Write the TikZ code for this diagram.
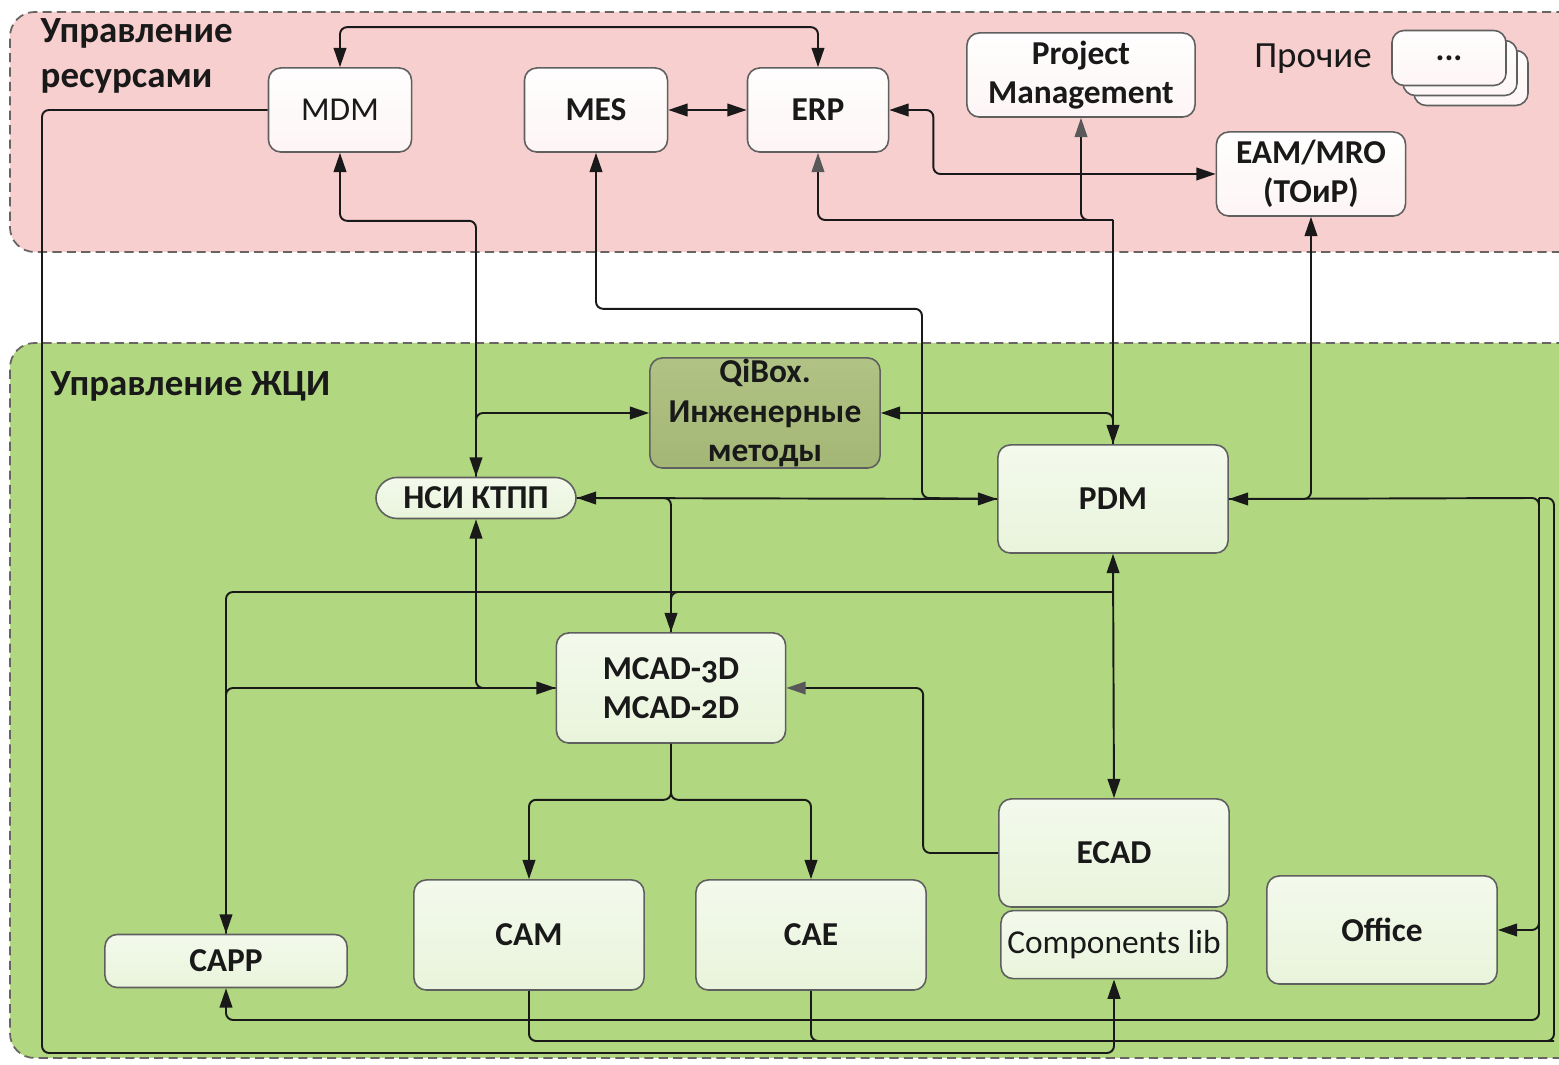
\documentclass[tikz,border=0pt]{standalone}
\usepackage{fontspec}
\setmainfont{Carlito}[Numbers=OldStyle]
\usepackage{tikz}
\usetikzlibrary{arrows.meta, positioning}

\definecolor{respink}{RGB}{248,207,207}
\definecolor{lcgreen}{RGB}{177,216,129}
\definecolor{zoneline}{RGB}{105,100,100}
\definecolor{boxline}{RGB}{95,95,95}
\definecolor{qiolive}{RGB}{170,190,122}

\tikzstyle{resbox} = [
    draw=boxline,
    line width=0.45pt,
    rounded corners=3.5pt,
    top color=white!97!respink,
    bottom color=white!80!respink,
    font=\fontsize{9.5}{11.2}\selectfont\bfseries,
    text=black!90,
    align=center,
    inner sep=0pt
]
\tikzstyle{lcbox} = [
    resbox,
    top color=white!85!lcgreen,
    bottom color=white!72!lcgreen
]
\tikzstyle{zone} = [
    draw=zoneline,
    line width=0.5pt,
    dash pattern=on 2.6pt off 1.5pt,
    rounded corners=7pt
]
\tikzstyle{zonelabel} = [
    font=\fontsize{10.5}{12.8}\selectfont\bfseries,
    text=black!90,
    align=left,
    inner sep=0pt
]
\tikzstyle{link} = [
    draw=black!90,
    line width=0.55pt,
    rounded corners=2pt
]
\tikzset{>={Triangle[length=5.5pt,width=3.6pt]}}

\begin{document}
\begin{tikzpicture}[x=0.01cm, y=-0.01cm]
\useasboundingbox (0,0) rectangle (1559,1065);

% zones
\begin{scope}
\clip (0,0) rectangle (1559,1065);
\fill[respink, rounded corners=7pt] (1580,12) -- (10,12) -- (10,252) -- (1580,252) -- cycle;
\draw[zone] (1580,12) -- (10,12) -- (10,252) -- (1580,252);
\fill[lcgreen, rounded corners=7pt] (1580,343) -- (10,343) -- (10,1058) -- (1580,1058) -- cycle;
\draw[zone] (1580,343) -- (10,343) -- (10,1058) -- (1580,1058);
\end{scope}

\node [zonelabel, anchor=north west] (reslabel) at (40,18) {Управление\\ресурсами};
\node [zonelabel, anchor=west] (lclabel) at (50,386) {Управление ЖЦИ};

% resource management
\node [resbox,
    font=\fontsize{9.5}{11.2}\selectfont,
    minimum width=1.43cm,
    minimum height=0.84cm
]  (mdm) at (340,110) {MDM};

\node [resbox,
    minimum width=1.43cm,
    minimum height=0.84cm
]  (mes) at (596,110) {MES};

\node [resbox,
    minimum width=1.41cm,
    minimum height=0.84cm
]  (erp) at (818,110) {ERP};

\node [resbox,
    minimum width=2.28cm,
    minimum height=0.84cm
]  (pm) at (1081,75) {Project\\Management};

\node [resbox,
    minimum width=1.89cm,
    minimum height=0.84cm
]  (eam) at (1311,174) {EAM/MRO\\(ТОиР)};

\node [font=\fontsize{10.5}{12}\selectfont, text=black!90, inner sep=0pt] (other) at (1313,59) {Прочие};

\node [resbox, minimum width=1.14cm, minimum height=0.55cm] (misc3) at (1471,78) {};
\node [resbox, minimum width=1.14cm, minimum height=0.55cm] (misc2) at (1460,68) {};
\node [resbox, minimum width=1.14cm, minimum height=0.55cm] (misc1) at (1449,58) {...};

% lifecycle management
\node [lcbox,
    top color=qiolive!92!white,
    bottom color=qiolive!96!black,
    minimum width=2.3cm,
    minimum height=1.1cm
]  (qibox) at (765,413) {QiBox.\\Инженерные\\методы};

\node [lcbox,
    rounded corners=6pt,
    minimum width=2cm,
    minimum height=0.41cm
]  (nsi) at (476,498) {НСИ КТПП};

\node [lcbox,
    minimum width=2.3cm,
    minimum height=1.08cm
]  (pdm) at (1113,499) {PDM};

\node [lcbox,
    minimum width=2.29cm,
    minimum height=1.1cm
]  (mcad) at (671,688) {MCAD-3D\\MCAD-2D};

\node [lcbox,
    minimum width=2.42cm,
    minimum height=0.53cm
]  (capp) at (226,961) {CAPP};

\node [lcbox,
    minimum width=2.3cm,
    minimum height=1.1cm
]  (cam) at (529,935) {CAM};

\node [lcbox,
    minimum width=2.3cm,
    minimum height=1.1cm
]  (cae) at (811,935) {CAE};

\node [lcbox,
    minimum width=2.3cm,
    minimum height=1.08cm
]  (ecad) at (1114,853) {ECAD};

\node [lcbox,
    font=\fontsize{9.5}{11.2}\selectfont,
    minimum width=2.26cm,
    minimum height=0.68cm,
    below=0.02cm of ecad
]  (complib) {Components lib};

\node [lcbox,
    minimum width=2.3cm,
    minimum height=1.08cm
]  (office) at (1382,930) {Office};

% bus points
\coordinate (erpbus) at (1113,220);
\coordinate (mesbend) at (922,498);
\coordinate (cappbus) at (1113,592);
\coordinate (rbus) at (1539,498);
\coordinate (rbusend) at (1539,1020);
\coordinate (obus) at (1554,498);
\coordinate (obusend) at (1554,1041);
\coordinate (mdmcorner) at (42,1053);

% connectors
\draw[link, <->] (mdm.north) -- ++(0,-40) -| (erp.north);
\draw[link, ->] (mdm.west) -| (mdmcorner) -| (complib.south);
\draw[link, <->] (mes.east) -- (erp.west);
\draw[link, <->] (erp.east) -- ++(44,0) |- (eam.west);
\draw[link, {Triangle[length=5.5pt,width=3.6pt,black!65]}-] (erp.south) |- (erpbus);
\draw[link, {Triangle[length=5.5pt,width=3.6pt,black!65]}-] (pm.south) |- (erpbus);
\draw[link, ->] (erpbus) -- (pdm.north);
\draw[link, <-] (qibox.east) -| (pdm.north);
\draw[link, <->] (mdm.south) -- ++(0,68) -| (nsi.north);
\draw[link, ->] (nsi.north) |- (qibox.west);
\draw[link, <-] (mes.south) -- ++(0,156) -| (mesbend) -- (pdm.west);
\draw[link, <->] (nsi.east) -- (pdm.west);
\draw[link, ->] (nsi.east) -| (mcad.north);
\draw[link, <->] (pdm.south) -- (ecad.north);
\draw[link, ->] (cappbus) -| (capp.north);
\draw[link] (cappbus) -| (mcad.north);
\draw[link, <-] (mcad.west) -| (capp.north);
\draw[link, <-] (nsi.south) |- (mcad.west);
\draw[link, -{Triangle[length=5.5pt,width=3.6pt,black!65]}] (ecad.west) -- ++(-75,0) |- (mcad.east);
\draw[link, ->] (mcad.south) -- ++(0,56) -| (cam.north);
\draw[link, ->] (mcad.south) -- ++(0,56) -| (cae.north);
\draw[link, <-] (capp.south) |- (rbusend) -- (rbus) -- (pdm.east);
\draw[link, ->] (rbus) |- (office.east);
\draw[link, <->] (pdm.east) -| (eam.south);
\draw[link] (cam.south) |- (obusend) -- (obus) -- (rbus);
\draw[link] (cae.south) |- (obusend);

\end{tikzpicture}
\end{document}
